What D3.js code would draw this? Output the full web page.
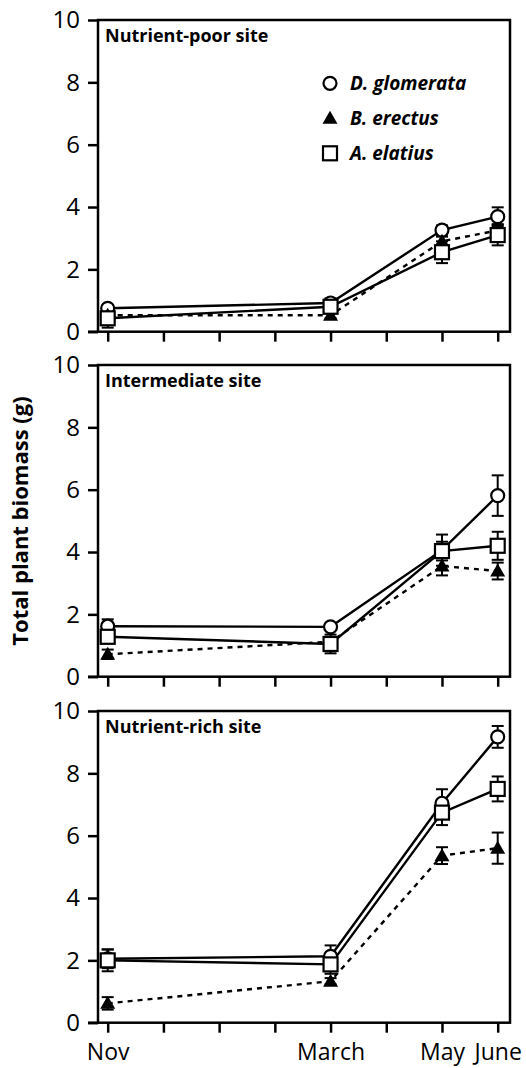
<!DOCTYPE html>
<html><head><meta charset="utf-8">
<script src="https://cdn.jsdelivr.net/npm/d3@7"></script>
<style>body{margin:0;background:#fff}svg{display:block}text{font-family:"Open Sans","Noto Sans",sans-serif;fill:#000}</style>
</head><body><svg id="c" width="526" height="1068"></svg>
<script>
const monthTicks = ["Nov","Dec","Jan","Feb","March","April","May","June"];
const monthLabels = ["Nov","","","","March","","May","June"];
const sampleIdx = [0,4,6,7];
const yTicks = [0,2,4,6,8,10];
const sites = ["Nutrient-poor site","Intermediate site","Nutrient-rich site"];
const species = ["D. glomerata","B. erectus","A. elatius"];
// values per site
const poorGlom = [0.75,0.92,3.26,3.69], poorGlomErr = [0.1,0.15,0.15,0.3];
const poorErect = [0.53,0.53,2.9,3.25], poorErectErr = [0.1,0.1,0.15,0.2];
const poorElat = [0.43,0.8,2.55,3.1], poorElatErr = [0.3,0.2,0.35,0.33];
const interGlom = [1.62,1.6,4.06,5.81], interGlomErr = [0.22,0.1,0.5,0.65];
const interErect = [0.72,1.12,3.55,3.39], interErectErr = [0.15,0.15,0.3,0.27];
const interElat = [1.28,1.05,4.03,4.2], interElatErr = [0.2,0.3,0.3,0.45];
const richGlom = [2.05,2.13,7.04,9.17], richGlomErr = [0.3,0.35,0.45,0.35];
const richErect = [0.62,1.33,5.36,5.6], richErectErr = [0.2,0.1,0.27,0.5];
const richElat = [2.0,1.87,6.74,7.5], richElatErr = [0.35,0.3,0.4,0.4];

const panels = [
  {title:sites[0], series:[[poorGlom,poorGlomErr],[poorErect,poorErectErr],[poorElat,poorElatErr]]},
  {title:sites[1], series:[[interGlom,interGlomErr],[interErect,interErectErr],[interElat,interElatErr]]},
  {title:sites[2], series:[[richGlom,richGlomErr],[richErect,richErectErr],[richElat,richElatErr]]}
];
const svg = d3.select("#c");
const left = 98, right = 510, ph = 311.7;
const tops = [20, 365, 711];
const x = d3.scaleLinear().domain([0,7]).range([107.7,497.7]);
const styles = [
  {shape:"circle", dash:null},
  {shape:"triangle", dash:"5,5"},
  {shape:"square", dash:null}
];
function marker(g, shape, cx, cy){
  if(shape==="circle") g.append("circle").attr("cx",cx).attr("cy",cy).attr("r",6.5).attr("fill","#fff").attr("stroke","#000").attr("stroke-width",2.2);
  else if(shape==="square") g.append("rect").attr("x",cx-7).attr("y",cy-7).attr("width",14).attr("height",14).attr("fill","#fff").attr("stroke","#000").attr("stroke-width",2.2);
  else g.append("path").attr("d",`M${cx},${cy-7.5}L${cx+7.5},${cy+5.5}L${cx-7.5},${cy+5.5}Z`).attr("fill","#000");
}
panels.forEach((p,pi)=>{
  const top = tops[pi];
  const y = d3.scaleLinear().domain([0,10]).range([top+ph, top]);
  const g = svg.append("g");
  g.append("rect").attr("x",left).attr("y",top).attr("width",right-left).attr("height",ph).attr("fill","none").attr("stroke","#000").attr("stroke-width",2.5);
  const ya = d3.axisLeft(y).tickValues(yTicks).tickSize(10).tickPadding(8).tickFormat(d3.format("d"));
  const yg = g.append("g").attr("transform",`translate(${left},0)`).call(ya);
  yg.select(".domain").remove();
  yg.selectAll("line").attr("stroke-width",2.5);
  yg.selectAll("text").attr("font-size",24).attr("font-family",null);
  const xa = d3.axisBottom(x).tickValues(d3.range(monthTicks.length)).tickSize(10).tickPadding(11)
    .tickFormat((d,i)=> pi===2 ? monthLabels[i] : "");
  const xg = g.append("g").attr("transform",`translate(0,${top+ph})`).call(xa);
  xg.select(".domain").remove();
  xg.selectAll("line").attr("stroke-width",2.5);
  xg.selectAll("text").attr("font-size",23).attr("font-family",null);
  g.append("line").attr("x1",88).attr("x2",left).attr("y1",top+ph).attr("y2",top+ph).attr("stroke","#000").attr("stroke-width",2.5);
  g.append("text").attr("x",105).attr("y",top+22).attr("font-size",18).attr("font-weight","bold").text(p.title);
  const line = d3.line().x((d,i)=>x(sampleIdx[i])).y(d=>y(d));
  p.series.forEach((s,si)=>{
    g.append("path").attr("d",line(s[0])).attr("fill","none").attr("stroke","#000").attr("stroke-width",2.4)
      .attr("stroke-dasharray",styles[si].dash);
  });
  p.series.forEach((s,si)=>{
    s[0].forEach((v,i)=>{
      const cx = x(sampleIdx[i]), e = s[1][i];
      g.append("line").attr("x1",cx).attr("x2",cx).attr("y1",y(v-e)).attr("y2",y(v+e)).attr("stroke","#000").attr("stroke-width",2);
      [v-e,v+e].forEach(t=>g.append("line").attr("x1",cx-6).attr("x2",cx+6).attr("y1",y(t)).attr("y2",y(t)).attr("stroke","#000").attr("stroke-width",2));
    });
  });
  p.series.forEach((s,si)=>{
    s[0].forEach((v,i)=>marker(g, styles[si].shape, x(sampleIdx[i]), y(v)));
  });
  if(pi===0){
    species.forEach((name,si)=>{
      const ly = 83.3 + si*35;
      marker(g, styles[si].shape, 330, ly);
      g.append("text").attr("x",350).attr("y",ly).attr("dy","0.35em").attr("font-size",19)
        .attr("font-weight","bold").attr("font-style","italic").text(name);
    });
  }
});
svg.append("text").attr("transform","translate(28,521) rotate(-90)").attr("text-anchor","middle")
  .attr("font-size",22).attr("font-weight","bold").text("Total plant biomass (g)");
</script></body></html>
